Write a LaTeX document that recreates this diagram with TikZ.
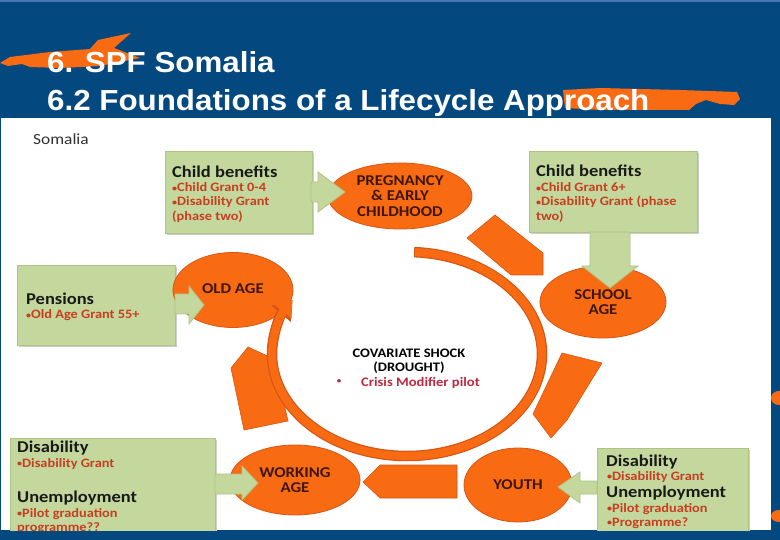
\documentclass[tikz,border=0pt]{standalone}
\usepackage{fontspec}
\setmainfont{Carlito}[FakeStretch=1.12]
\newfontfamily\titlefont{Liberation Sans}[FakeStretch=1.08]
\usetikzlibrary{shapes.geometric,arrows.meta,calc}
\definecolor{bgblue}{RGB}{4,72,128}
\definecolor{topline}{RGB}{70,120,175}
\definecolor{orng}{RGB}{249,107,18}
\definecolor{orngdark}{RGB}{214,86,22}
\definecolor{gfill}{RGB}{196,215,157}
\definecolor{gline}{RGB}{172,196,132}
\definecolor{gshadow}{RGB}{205,205,205}
\definecolor{redtxt}{RGB}{200,62,35}
\definecolor{pinktxt}{RGB}{190,40,62}
\definecolor{elltxt}{RGB}{62,22,10}
\newcommand\bul{\raisebox{0.8pt}{\scalebox{0.7}{•}}}
\tikzset{
  ell/.style={ellipse, fill=orng, draw=orngdark, line width=0.8pt, inner sep=0pt, outer sep=0pt,
    text=elltxt, align=center, font=\bfseries\fontsize{15}{15.5}\selectfont},
  gbox/.style={rectangle, fill=gfill, draw=gline, line width=0.8pt, anchor=north west, inner sep=0pt, outer sep=0pt},
  gshad/.style={rectangle, fill=gshadow, anchor=north west, inner sep=0pt, outer sep=0pt},
  garrow/.style={fill=gfill, draw=gline, line width=0.8pt},
  oarrow/.style={fill=orng, draw=orngdark, line width=0.6pt},
  headtxt/.style={anchor=base west, inner sep=0pt, text=black!90, font=\bfseries\fontsize{16.5}{18}\selectfont},
  bultxt/.style={anchor=base west, inner sep=0pt, text=redtxt, font=\bfseries\fontsize{12.8}{14}\selectfont},
  titletxt/.style={anchor=base west, inner sep=0pt, text=white, font=\titlefont\bfseries\fontsize{29}{32}\selectfont},
  ctrtxt/.style={anchor=base, inner sep=0pt, text=black, font=\bfseries\fontsize{13}{14}\selectfont}
}
\begin{document}
\begin{tikzpicture}[x=1pt,y=-1pt]
\useasboundingbox (0,0) rectangle (780,540);
\fill[bgblue] (0,0) rectangle (780,540);
\fill[topline] (0,0) rectangle (780,2.5);
% header swooshes
\fill[orng] (0,63) -- (10,57) -- (50,52) -- (90,49) -- (98,40) -- (131,33) -- (114,48) -- (140,58)
  -- (100,66) -- (60,68) -- (30,67) -- (22,64) -- (8,66) -- cycle;
\fill[orng] (563,90) -- (600,88) -- (680,90) -- (737,92) -- (740,99) -- (734,105) -- (720,104)
  -- (706,100) -- (696,104) -- (689,110) -- (600,110) -- (565,108) -- cycle;
% right edge blobs
\fill[orng] (779,398) ellipse[x radius=8, y radius=7];
\fill[orng] (779,516) ellipse[x radius=8, y radius=6];
% title
\node[titletxt] (title1) at (47,73) {6. SPF Somalia};
\node[titletxt] (title2) at (47,111) {6.2 Foundations of a Lifecycle Approach};
% white panel
\fill[white] (1,118) rectangle (771,530);
\begin{scope}
\clip (1,118) rectangle (771,530);
\node[anchor=base west, inner sep=0pt, text=black!80, font=\fontsize{15.5}{17}\selectfont] (somalia) at (33,145) {Somalia};
% shadows
\node[gshad, minimum width=147pt, minimum height=82pt] (s1) at (167,153) {};
\node[gshad, minimum width=168pt, minimum height=81pt] (s2) at (531,153) {};
\node[gshad, minimum width=158pt, minimum height=80pt] (s3) at (19,267) {};
\node[gshad, minimum width=205pt, minimum height=107pt] (s4) at (12,440) {};
\node[gshad, minimum width=151pt, minimum height=97pt] (s5) at (599,450) {};
% green boxes
\node[gbox, minimum width=147pt, minimum height=82pt] (box1) at (165,151) {};
\node[gbox, minimum width=168pt, minimum height=81pt] (box2) at (529,151) {};
\node[gbox, minimum width=158pt, minimum height=80pt] (box3) at (17,265) {};
\node[gbox, minimum width=205pt, minimum height=107pt] (box4) at (10,438) {};
\node[gbox, minimum width=151pt, minimum height=97pt] (box5) at (597,448) {};
% ellipses
\node[ell, minimum width=144pt, minimum height=66pt] (preg) at (400,196) {PREGNANCY\\\& EARLY\\CHILDHOOD};
\node[ell, minimum width=126pt, minimum height=72pt] (school) at (603,302) {SCHOOL\\AGE};
\node[ell, minimum width=120pt, minimum height=75pt] (old) at (233,290) {\raisebox{3pt}{OLD AGE}};
\node[ell, minimum width=130pt, minimum height=70pt] (work) at (295,480) {WORKING\\AGE};
\node[ell, minimum width=108pt, minimum height=74pt] (youth) at (518,485) {YOUTH};
% green block arrows
\draw[garrow] (311,182) -- (318,182) -- (318,172) -- (345,192) -- (318,212) -- (318,202) -- (311,202) -- cycle;
\draw[garrow] (590,232) -- (590,266) -- (582,266) -- (610,288) -- (638,266) -- (630,266) -- (630,232) -- cycle;
\draw[garrow] (175,294) -- (189,294) -- (189,286) -- (204,305) -- (189,324) -- (189,314) -- (175,314) -- cycle;
\draw[garrow] (215,474) -- (242,474) -- (242,466) -- (258,483) -- (242,500) -- (242,494) -- (215,494) -- cycle;
\draw[garrow] (597,481) -- (580,481) -- (580,472) -- (558,487) -- (580,503) -- (580,494) -- (597,494) -- cycle;
% orange block arrows
\draw[oarrow] (467,238) -- (495,215) -- (543,253) -- (543,275) -- (511,275) -- cycle;
\draw[oarrow] (562,353) -- (602,363) -- (567,420) -- (551,438) -- (533,414) -- cycle;
\draw[oarrow] (457,465) -- (457,498) -- (380,498) -- (363,482) -- (380,465) -- cycle;
\draw[oarrow] (248,347) -- (274,359) -- (288,421) -- (244,430) -- (231,368) -- cycle;
% ring arrow
\coordinate (rc) at (407,354);
\draw[orngdark, line width=10.5pt, -{Triangle[width=24pt,length=18pt]}]
  ($(rc)+(87:135pt and 102pt)$) arc[start angle=87, end angle=-212, x radius=135pt, y radius=102pt];
\draw[orng, line width=8pt, shorten <=0.8pt, -{Triangle[width=21pt,length=15pt]}]
  ($(rc)+(87:135pt and 102pt)$) arc[start angle=87, end angle=-212, x radius=135pt, y radius=102pt];
% box texts
\node[headtxt] (b1h) at (172,178) {Child benefits};
\node[bultxt] (b1a) at (172,192) {\bul Child Grant 0-4};
\node[bultxt] (b1b) at (172,206) {\bul Disability Grant};
\node[bultxt] (b1c) at (172,221) {(phase two)};
\node[headtxt] (b2h) at (536,177) {Child benefits};
\node[bultxt] (b2a) at (536,192) {\bul Child Grant 6+};
\node[bultxt] (b2b) at (536,206) {\bul Disability Grant (phase};
\node[bultxt] (b2c) at (536,221) {two)};
\node[headtxt] (b3h) at (26,305) {Pensions};
\node[bultxt] (b3a) at (26,319) {\bul Old Age Grant 55+};
\node[headtxt] (b4h) at (17,452) {Disability};
\node[bultxt] (b4a) at (17,467) {\bul Disability Grant};
\node[headtxt] (b4c) at (17,502) {Unemployment};
\node[bultxt] (b4d) at (17,517) {\bul Pilot graduation};
\node[bultxt] (b4e) at (17,531) {programme??};
\node[headtxt] (b5h) at (606,466) {Disability};
\node[bultxt] (b5a) at (607,480) {\bul Disability Grant};
\node[headtxt] (b5c) at (606,497) {Unemployment};
\node[bultxt] (b5d) at (607,512) {\bul Pilot graduation};
\node[bultxt] (b5e) at (607,526) {\bul Programme?};
% centre text
\node[ctrtxt] (cov1) at (409,358) {COVARIATE SHOCK};
\node[ctrtxt] (cov2) at (409,371) {(DROUGHT)};
\node[anchor=base, inner sep=0pt, text=pinktxt, font=\bfseries\fontsize{8}{10}\selectfont] (covb) at (339,384) {•};
\node[anchor=base west, inner sep=0pt, text=pinktxt, font=\bfseries\fontsize{13}{14}\selectfont] (cov3) at (361,386) {Crisis Modifier pilot};
\end{scope}
\end{tikzpicture}
\end{document}
